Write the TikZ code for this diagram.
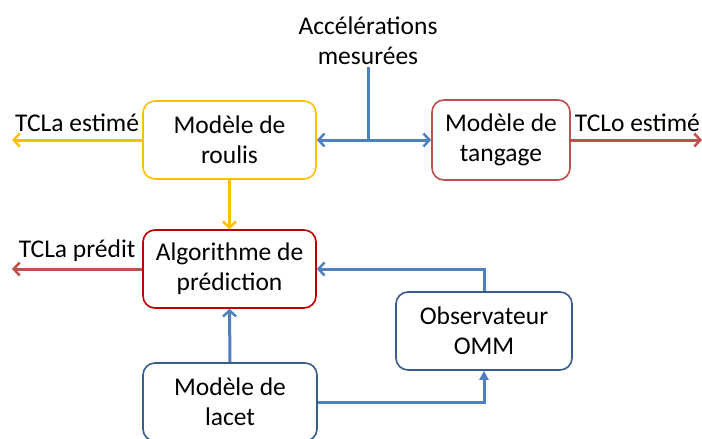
\documentclass[tikz,border=0pt]{standalone}
\usepackage{fontspec}
\setmainfont{Carlito}
\usetikzlibrary{positioning}
\usetikzlibrary{arrows.meta}
\definecolor{jaune}{HTML}{FFC000}
\definecolor{rouge}{HTML}{C0504D}
\definecolor{rougefonce}{HTML}{C00000}
\definecolor{bleu}{HTML}{4F81BD}
\definecolor{bleufonce}{HTML}{385D8A}

\begin{document}
\begin{tikzpicture}[
        x=1pt, y=-1pt,
        box/.style={rectangle, draw, fill=white, line width=1.6pt, rounded corners=12pt, minimum width=173pt, minimum height=78pt, align=center, font=\fontsize{25.5}{30}\selectfont},
        lbl/.style={font=\fontsize{25.5}{30}\selectfont, align=center},
        arrow/.style={-{Straight Barb[length=6pt,width=13pt,line width=2.5pt]}, line width=3pt},
        dblarrow/.style={{Straight Barb[length=6pt,width=13pt,line width=2.5pt]}-{Straight Barb[length=6pt,width=13pt,line width=2.5pt]}, line width=3pt},
        tiparrow/.style={-{Triangle[length=9pt,width=9pt]}, line width=3pt}
    ]
        \useasboundingbox (0,0) rectangle (702,439);

        % blocs
        \node[box, draw=jaune] (roulis) at (229.5,140) {Modèle de\\roulis};
        \node[box, draw=rouge, minimum width=138pt, minimum height=80pt] (tangage) at (501,140) {Modèle de\\tangage};
        \node[box, draw=rougefonce] (algo) at (229.5,269) {Algorithme de\\prédiction};
        \node[box, draw=bleufonce, minimum width=176pt] (omm) at (484,331) {Observateur\\OMM};
        \node[box, draw=bleufonce, minimum width=174pt] (lacet) at (230,402) {Modèle de\\lacet};
        \node[lbl, inner ysep=2pt] (accel) at (368,41) {Accélérations\\mesurées};

        % points libres
        \coordinate (tclaest) at (12,140);
        \coordinate (tcloest) at (702,140);
        \coordinate (tclapred) at (12,269);
        \coordinate (jonction) at (368,140);

        % connexions
        \draw[arrow, jaune] (roulis.west) -- node[lbl, above, text=black, yshift=3pt] {TCLa estimé} (tclaest);
        \draw[dblarrow, bleu] (roulis.east) -- (tangage.west);
        \draw[line width=3pt, bleu] (accel.south) -- (jonction);
        \draw[arrow, rouge] (tangage.east) -- node[lbl, above, text=black, xshift=1pt, yshift=3pt, inner xsep=1pt] {TCLo estimé} (tcloest);
        \draw[arrow, jaune] (roulis.south) -- (algo.north);
        \draw[arrow, rouge] (algo.west) -- node[lbl, above, text=black, yshift=3pt] {TCLa prédit} (tclapred);
        \draw[arrow, bleu] (omm.north) |- (algo.east);
        \draw[arrow, bleu] (lacet.north) -- (algo.south);
        \draw[tiparrow, bleu] (lacet.east) -| (omm.south);
    \end{tikzpicture}
\end{document}
